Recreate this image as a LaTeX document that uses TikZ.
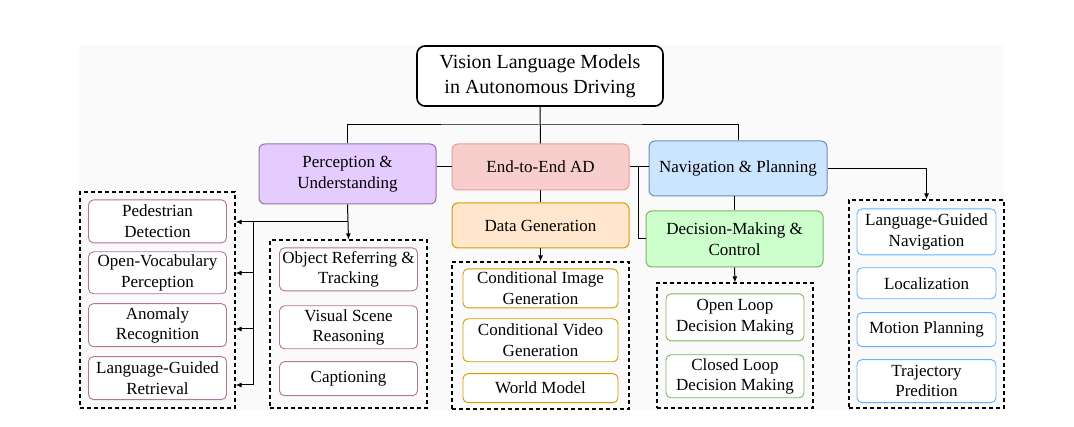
\documentclass[tikz,border=0pt]{standalone}
\usepackage{fontspec}
\setmainfont{Liberation Serif}
\usetikzlibrary{positioning,arrows.meta}

\definecolor{percfill}{HTML}{E5CCFF}
\definecolor{percdraw}{HTML}{9673A6}
\definecolor{percleaf}{HTML}{B5739D}
\definecolor{etefill}{HTML}{F8CECC}
\definecolor{etedraw}{HTML}{F19C99}
\definecolor{navfill}{HTML}{CCE5FF}
\definecolor{navdraw}{HTML}{6C8EBF}
\definecolor{navleaf}{HTML}{66B2FF}
\definecolor{genfill}{HTML}{FFE6CC}
\definecolor{gendraw}{HTML}{D79B00}
\definecolor{decfill}{HTML}{CCFFCC}
\definecolor{decdraw}{HTML}{82B366}

\tikzstyle{rootbox}=[rectangle, rounded corners=8pt, draw=black, fill=white, line width=1.6pt,
minimum width=246pt, minimum height=60pt, align=center, font=\fontsize{20}{25}\selectfont]
\tikzstyle{catbox}=[rectangle, rounded corners=6pt, line width=1pt, minimum width=177pt,
inner sep=2pt, align=center, font=\fontsize{17}{20.5}\selectfont]
\tikzstyle{leafbox}=[rectangle, rounded corners=5pt, fill=white, line width=0.9pt, minimum width=138pt,
inner sep=1pt, align=center, font=\fontsize{17}{20.5}\selectfont]
\tikzstyle{grpbox}=[rectangle, draw=black, line width=1.1pt, dash pattern=on 4pt off 3pt]
\tikzstyle{line}=[-, line width=1pt]
\tikzstyle{aline}=[-{Latex[length=6pt,width=5pt]}, line width=1pt]

\begin{document}
\begin{tikzpicture}[x=1pt, y=-1pt]

    \useasboundingbox (0,0) rectangle (1074,427);
    \fill[black!2] (79,45) rectangle (1004,410);

    \node (root) [rootbox] at (540,76) {Vision Language Models\\in Autonomous Driving};

% Categories
    \node (perc) [catbox, draw=percdraw, fill=percfill, minimum height=60pt] at (347.5,174) {Perception \&\\Understanding};
    \node (ete) [catbox, draw=etedraw, fill=etefill, minimum height=46pt] at (540.5,167) {End-to-End AD};
    \node (nav) [catbox, draw=navdraw, fill=navfill, minimum width=178pt, minimum height=55pt] at (738,168.5) {Navigation \& Planning};
    \node (gen) [catbox, draw=gendraw, fill=genfill, minimum height=45pt] at (540.5,225.5) {Data Generation};
    \node (dec) [catbox, draw=decdraw, fill=decfill, minimum height=56pt] at (734.5,239) {Decision-Making \&\\Control};

% Groups
    \node (pgrpL) [grpbox, minimum width=155pt, minimum height=216pt] at (157.5,300) {};
    \node (pgrpR) [grpbox, minimum width=157pt, minimum height=168pt] at (348.5,324) {};
    \node (gengrp) [grpbox, minimum width=177pt, minimum height=147pt] at (540.5,335.5) {};
    \node (decgrp) [grpbox, minimum width=156pt, minimum height=125pt] at (735,345.5) {};
    \node (navgrp) [grpbox, minimum width=155pt, minimum height=208pt] at (926.5,304) {};

% Perception leaves
    \node (ped) [leafbox, draw=percleaf, minimum height=43pt, below=8pt of pgrpL.north] {Pedestrian\\Detection};
    \node (openvoc) [leafbox, draw=percleaf, minimum height=42pt, below=8pt of ped] {Open-Vocabulary\\Perception};
    \node (anom) [leafbox, draw=percleaf, minimum height=43pt, below=9pt of openvoc] {Anomaly\\Recognition};
    \node (retr) [leafbox, draw=percleaf, minimum height=43pt, below=9pt of anom] {Language-Guided\\Retrieval};

    \node (objref) [leafbox, draw=percleaf, minimum height=43pt, below=8pt of pgrpR.north] {Object Referring \&\\Tracking};
    \node (vsr) [leafbox, draw=percleaf, minimum height=43pt, below=14pt of objref] {Visual Scene\\Reasoning};
    \node (capt) [leafbox, draw=percleaf, minimum height=34pt, below=12pt of vsr] {Captioning};

% Data generation leaves
    \node (cimg) [leafbox, draw=gendraw, minimum width=155pt, minimum height=39pt, below=7pt of gengrp.north] {Conditional Image\\Generation};
    \node (cvid) [leafbox, draw=gendraw, minimum width=155pt, minimum height=43pt, below=10pt of cimg] {Conditional Video\\Generation};
    \node (world) [leafbox, draw=gendraw, minimum width=155pt, minimum height=29pt, below=11pt of cvid] {World Model};

% Decision leaves
    \node (oloop) [leafbox, draw=decdraw, minimum height=47pt, below=11pt of decgrp.north] {Open Loop\\Decision Making};
    \node (cloop) [leafbox, draw=decdraw, minimum height=43pt, below=13pt of oloop] {Closed Loop\\Decision Making};

% Navigation leaves
    \node (lgnav) [leafbox, draw=navleaf, minimum width=139pt, minimum height=46pt, below=9pt of navgrp.north] {Language-Guided\\Navigation};
    \node (loc) [leafbox, draw=navleaf, minimum width=139pt, minimum height=31pt, below=12pt of lgnav] {Localization};
    \node (motion) [leafbox, draw=navleaf, minimum width=139pt, minimum height=34pt, below=13pt of loc] {Motion Planning};
    \node (traj) [leafbox, draw=navleaf, minimum width=139pt, minimum height=43pt, below=12pt of motion] {Trajectory\\Predition};

% Connectors
    \coordinate (hub) at (540,125);
    \coordinate (jdec) at (638,167);
    \coordinate (pbr) at (347.5,222);
    \coordinate (vtop) at (253,222);
    \coordinate (v1) at (253,273);
    \coordinate (v2) at (253,329);
    \coordinate (v3) at (253,385);

    \draw[line] (root.south) -- (ete.north);
    \draw[line] (perc.north) |- (hub) -| (nav.north);
    \draw[line] (ete.west) -- (ete.west -| perc.east);
    \draw[line] (ete.east) -- (ete.east -| nav.west);
    \draw[line] (jdec) |- (dec.west);
    \draw[line] (dec.north |- nav.south) -- (dec.north);
    \draw[line] (ete.south) -- (gen.north);

    \draw[aline] (gen.south) -- (gengrp.north);
    \draw[aline] (dec.south) -- (decgrp.north);
    \draw[aline] (nav.east) -| (navgrp.north);
    \draw[aline] (perc.south) -- (pgrpR.north);
    \draw[aline] (pbr) -- (pbr -| pgrpL.east);
    \draw[line] (vtop) -- (v3);
    \draw[aline] (v1) -- (v1 -| pgrpL.east);
    \draw[aline] (v2) -- (v2 -| pgrpL.east);
    \draw[aline] (v3) -- (v3 -| pgrpL.east);

\end{tikzpicture}
\end{document}
